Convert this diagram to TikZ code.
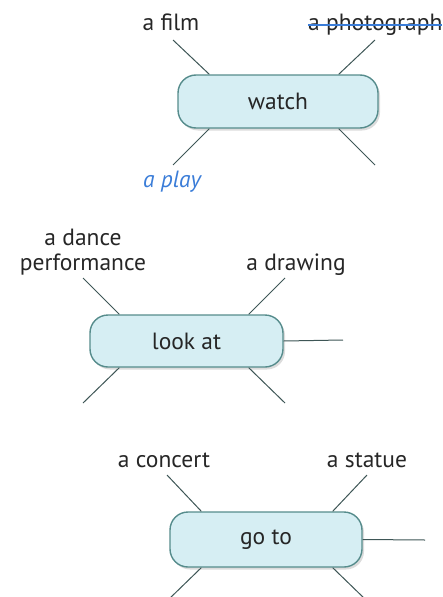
\documentclass[tikz,border=0pt]{standalone}
\usepackage{fontspec}
\setmainfont{PT Sans}
\usetikzlibrary{shadows,calc}
\definecolor{boxfill}{HTML}{D6EEF3}
\definecolor{boxline}{HTML}{568C8C}
\definecolor{spoke}{HTML}{3E5656}
\definecolor{txt}{HTML}{262626}
\definecolor{bluetxt}{HTML}{3B7DD8}
\tikzset{
  verb/.style={draw=boxline, line width=1.4pt, fill=boxfill, rounded corners=18pt,
    drop shadow={opacity=0.28, shadow xshift=2pt, shadow yshift=-2.5pt},
    font=\fontsize{23.5}{27}\selectfont, text=txt, inner sep=0pt},
  spk/.style={draw=spoke, line width=1pt},
  lbl/.style={font=\fontsize{23.5}{25}\selectfont, text=txt, inner sep=0pt, align=center, anchor=base},
}
\begin{document}
\begin{tikzpicture}[x=1pt,y=-1pt]
\useasboundingbox (0,0) rectangle (442,597);
% ---- watch ----
\coordinate (w1) at (173,40); \coordinate (w2) at (375,40);
\coordinate (w3) at (173,165); \coordinate (w4) at (375,165);
\node[verb, minimum width=200pt, minimum height=53pt] (w) at (278,101.5) {watch};
\draw[spk] (w1) -- ($(w.north west)+(32,0)$);
\draw[spk] (w2) -- ($(w.north east)+(-40,0)$);
\draw[spk] (w3) -- ($(w.south west)+(32,0)$);
\draw[spk] (w4) -- ($(w.south east)+(-40,0)$);
\node[lbl] (film) at (171,30) {a film};
\node[lbl, anchor=base west] (photo) at (308,30) {a photograph};
\draw[bluetxt, line width=1.2pt] ($(photo.base west)+(0,-5)$) coordinate (s1) -- (442,25) coordinate (s2);
\node[lbl, text=bluetxt, font=\fontsize{23.5}{25}\selectfont\itshape] (play) at (172,187) {a play};
% ---- look at ----
\coordinate (l1) at (83,278); \coordinate (l2) at (285,278);
\coordinate (l3) at (83,403); \coordinate (l4) at (285,403);
\coordinate (l5) at (343,340);
\node[verb, minimum width=193pt, minimum height=52pt] (l) at (186.5,341) {look at};
\draw[spk] (l1) -- ($(l.north west)+(30,0)$);
\draw[spk] (l2) -- ($(l.north east)+(-35,0)$);
\draw[spk] (l3) -- ($(l.south west)+(30,0)$);
\draw[spk] (l4) -- ($(l.south east)+(-35,0)$);
\draw[spk] (l.east) -- (l5);
\node[lbl] (dance) at (83,270) {a dance\\performance};
\node[lbl] (drawing) at (296,270) {a drawing};
% ---- go to ----
\coordinate (g1) at (167,475); \coordinate (g2) at (367,475);
\coordinate (g3) at (168,600); \coordinate (g4) at (366,600);
\coordinate (g5) at (425,540);
\node[verb, minimum width=192pt, minimum height=55pt] (g) at (266,539.5) {go to};
\draw[spk] (g1) -- ($(g.north west)+(32,0)$);
\draw[spk] (g2) -- ($(g.north east)+(-30,0)$);
\draw[spk] (g3) -- ($(g.south west)+(32,0)$);
\draw[spk] (g4) -- ($(g.south east)+(-30,0)$);
\draw[spk] (g.east) -- (g5);
\node[lbl] (concert) at (164,467) {a concert};
\node[lbl] (statue) at (367,467) {a statue};
\end{tikzpicture}
\end{document}
